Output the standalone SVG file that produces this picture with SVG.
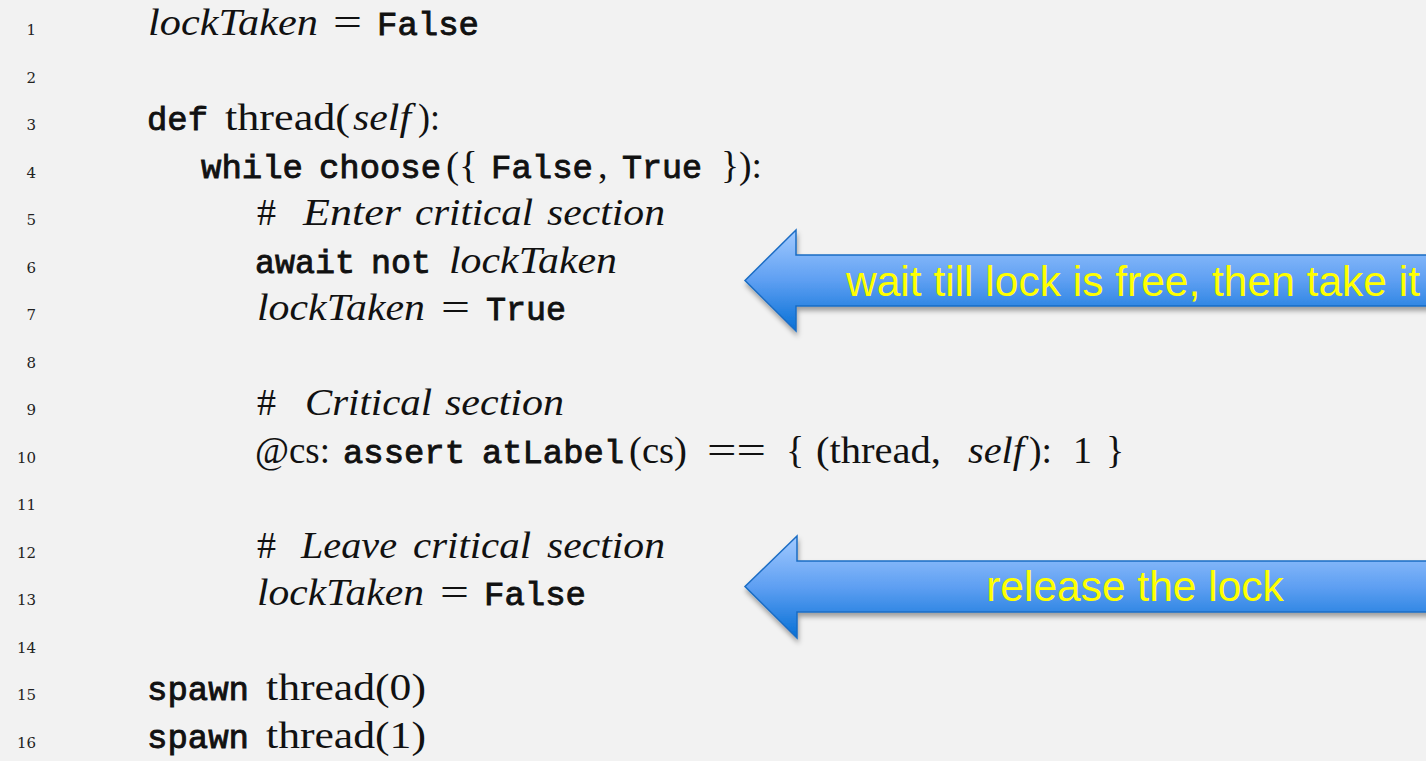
<svg xmlns="http://www.w3.org/2000/svg" width="1426" height="761" viewBox="0 0 1426 761">
<style>
.code{font-family:"Liberation Serif","Times New Roman",serif;font-size:38px;fill:#111}
.i{font-style:italic}
.tt{font-family:"Liberation Mono","Courier New",monospace;font-size:34px;font-weight:normal;stroke:#111;stroke-width:0.9}
.ln{font-family:"DejaVu Serif",serif;font-size:15px;fill:#222;text-anchor:end}
.lbl{font-family:"Liberation Sans",Arial,sans-serif;font-size:42.5px;fill:#ffff00;text-anchor:middle}
.arrow{fill:url(#blue);stroke:#1a6cc4;stroke-width:1.5;filter:url(#shadow)}
</style>
<defs>
<linearGradient id="blue" x1="0" y1="0" x2="0" y2="1">
<stop offset="0" stop-color="#a2caff"/>
<stop offset="0.5" stop-color="#5e9ff2"/>
<stop offset="1" stop-color="#0670d6"/>
</linearGradient>
<filter id="shadow" x="-5%" y="-20%" width="115%" height="150%">
<feDropShadow dx="1" dy="4" stdDeviation="2.5" flood-color="#000" flood-opacity="0.35"/>
</filter>
</defs>
<rect width="1426" height="761" fill="#f2f2f2"/>

<g id="line-numbers">
<text class="ln" x="36" y="35">1</text>
<text class="ln" x="36" y="82.5">2</text>
<text class="ln" x="36" y="130">3</text>
<text class="ln" x="36" y="177.5">4</text>
<text class="ln" x="36" y="225">5</text>
<text class="ln" x="36" y="272.5">6</text>
<text class="ln" x="36" y="320">7</text>
<text class="ln" x="36" y="367.5">8</text>
<text class="ln" x="36" y="415">9</text>
<text class="ln" x="36" y="462.5">10</text>
<text class="ln" x="36" y="510">11</text>
<text class="ln" x="36" y="557.5">12</text>
<text class="ln" x="36" y="605">13</text>
<text class="ln" x="36" y="652.5">14</text>
<text class="ln" x="36" y="700">15</text>
<text class="ln" x="36" y="747.5">16</text>
</g>

<g id="code-line-1">
<text class="code" y="35"><tspan class="i" x="148" textLength="170" lengthAdjust="spacingAndGlyphs">lockTaken</tspan><tspan x="333" textLength="29" lengthAdjust="spacingAndGlyphs">=</tspan><tspan class="tt" x="377" textLength="102" lengthAdjust="spacingAndGlyphs">False</tspan></text>
</g>

<g id="code-line-3">
<text class="code" y="130"><tspan class="tt" x="147" textLength="61" lengthAdjust="spacingAndGlyphs">def</tspan><tspan x="225" textLength="125" lengthAdjust="spacingAndGlyphs">thread(</tspan><tspan class="i" x="353" textLength="58" lengthAdjust="spacingAndGlyphs">self</tspan><tspan x="418" textLength="22" lengthAdjust="spacingAndGlyphs">):</tspan></text>
</g>

<g id="code-line-4">
<text class="code" y="177.5"><tspan class="tt" x="201" textLength="102" lengthAdjust="spacingAndGlyphs">while</tspan><tspan class="tt" x="319" textLength="122" lengthAdjust="spacingAndGlyphs">choose</tspan><tspan x="446" textLength="32" lengthAdjust="spacingAndGlyphs">({</tspan><tspan class="tt" x="491" textLength="102" lengthAdjust="spacingAndGlyphs">False</tspan><tspan x="598">,</tspan><tspan class="tt" x="622" textLength="80" lengthAdjust="spacingAndGlyphs">True</tspan><tspan x="721" textLength="41" lengthAdjust="spacingAndGlyphs">}):</tspan></text>
</g>

<g id="code-line-5">
<text class="code" y="225"><tspan x="257">#</tspan><tspan class="i" x="303" textLength="98" lengthAdjust="spacingAndGlyphs">Enter</tspan><tspan class="i" x="415" textLength="118" lengthAdjust="spacingAndGlyphs">critical</tspan><tspan class="i" x="547" textLength="118" lengthAdjust="spacingAndGlyphs">section</tspan></text>
</g>

<g id="code-line-6">
<text class="code" y="272.5"><tspan class="tt" x="255" textLength="100" lengthAdjust="spacingAndGlyphs">await</tspan><tspan class="tt" x="371" textLength="60" lengthAdjust="spacingAndGlyphs">not</tspan><tspan class="i" x="449" textLength="168" lengthAdjust="spacingAndGlyphs">lockTaken</tspan></text>
</g>

<g id="code-line-7">
<text class="code" y="320"><tspan class="i" x="257" textLength="168" lengthAdjust="spacingAndGlyphs">lockTaken</tspan><tspan x="441" textLength="29" lengthAdjust="spacingAndGlyphs">=</tspan><tspan class="tt" x="486" textLength="80" lengthAdjust="spacingAndGlyphs">True</tspan></text>
</g>

<g id="code-line-9">
<text class="code" y="415"><tspan x="257">#</tspan><tspan class="i" x="305" textLength="127" lengthAdjust="spacingAndGlyphs">Critical</tspan><tspan class="i" x="445" textLength="119" lengthAdjust="spacingAndGlyphs">section</tspan></text>
</g>

<g id="code-line-10">
<text class="code" y="462.5"><tspan x="255" textLength="75" lengthAdjust="spacingAndGlyphs">@cs:</tspan><tspan class="tt" x="343" textLength="122" lengthAdjust="spacingAndGlyphs">assert</tspan><tspan class="tt" x="482" textLength="142" lengthAdjust="spacingAndGlyphs">atLabel</tspan><tspan x="629" textLength="58" lengthAdjust="spacingAndGlyphs">(cs)</tspan><tspan x="707" textLength="59" lengthAdjust="spacingAndGlyphs">==</tspan><tspan x="786">{</tspan><tspan x="816" textLength="125" lengthAdjust="spacingAndGlyphs">(thread,</tspan><tspan class="i" x="968" textLength="56" lengthAdjust="spacingAndGlyphs">self</tspan><tspan x="1029" textLength="23" lengthAdjust="spacingAndGlyphs">):</tspan><tspan x="1073">1</tspan><tspan x="1106">}</tspan></text>
</g>

<g id="code-line-12">
<text class="code" y="557.5"><tspan x="257">#</tspan><tspan class="i" x="301" textLength="96" lengthAdjust="spacingAndGlyphs">Leave</tspan><tspan class="i" x="413" textLength="118" lengthAdjust="spacingAndGlyphs">critical</tspan><tspan class="i" x="547" textLength="118" lengthAdjust="spacingAndGlyphs">section</tspan></text>
</g>

<g id="code-line-13">
<text class="code" y="605"><tspan class="i" x="257" textLength="167" lengthAdjust="spacingAndGlyphs">lockTaken</tspan><tspan x="440" textLength="29" lengthAdjust="spacingAndGlyphs">=</tspan><tspan class="tt" x="484" textLength="102" lengthAdjust="spacingAndGlyphs">False</tspan></text>
</g>

<g id="code-line-15">
<text class="code" y="700"><tspan class="tt" x="147" textLength="102" lengthAdjust="spacingAndGlyphs">spawn</tspan><tspan x="266" textLength="160" lengthAdjust="spacingAndGlyphs">thread(0)</tspan></text>
</g>

<g id="code-line-16">
<text class="code" y="747.5"><tspan class="tt" x="147" textLength="102" lengthAdjust="spacingAndGlyphs">spawn</tspan><tspan x="266" textLength="160" lengthAdjust="spacingAndGlyphs">thread(1)</tspan></text>
</g>

<g id="connectors">
<g id="arrow-take-lock">
<path class="arrow" d="M745,280.5 L796,230 L796,255 L1432,255 L1432,306 L796,306 L796,331 Z"/>
<text class="lbl" x="1133" y="296">wait till lock is free, then take it</text>
</g>
<g id="arrow-release-lock">
<path class="arrow" d="M745,586.5 L797,536 L797,561 L1432,561 L1432,612 L797,612 L797,638 Z"/>
<text class="lbl" x="1135" y="601">release the lock</text>
</g>
</g>
</svg>
